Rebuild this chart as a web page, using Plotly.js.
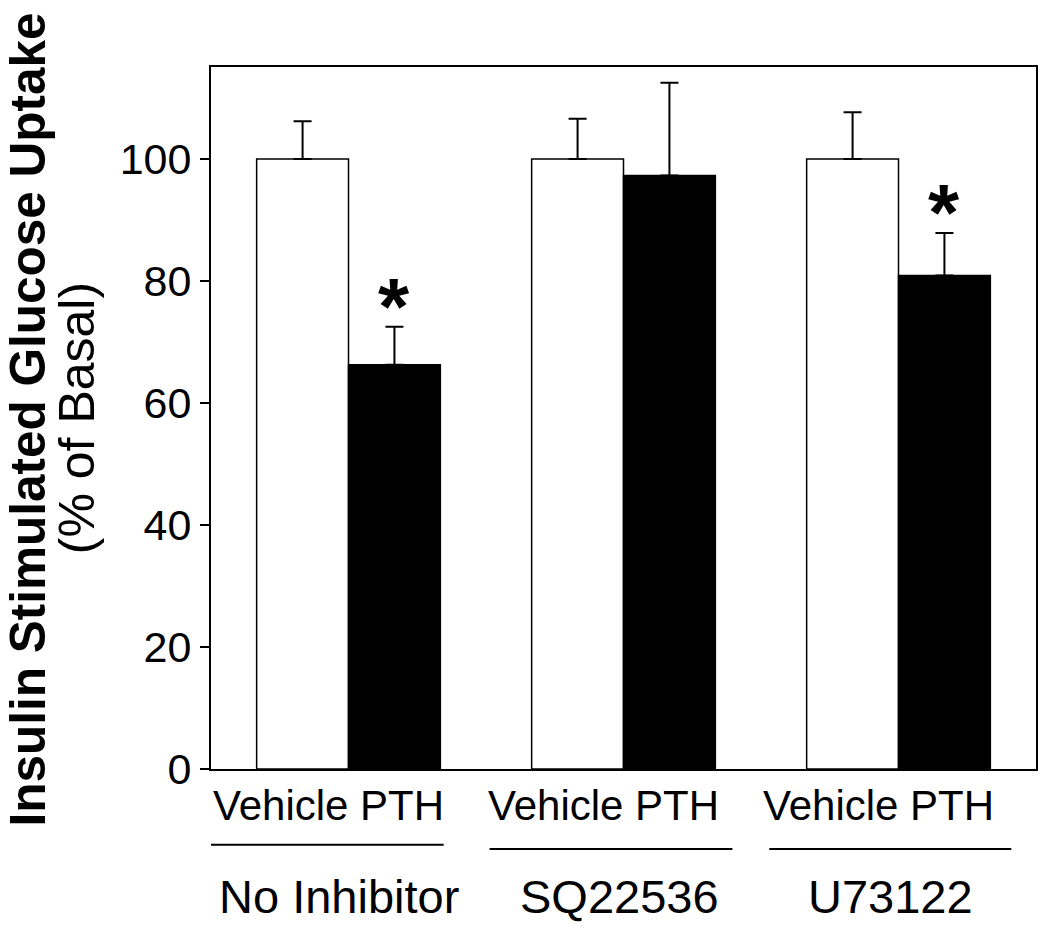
<!DOCTYPE html>
<html>
<head>
<meta charset="utf-8">
<script src="https://cdn.plot.ly/plotly-3.0.1.min.js"></script>
<style>html,body{margin:0;padding:0;background:#fff;}#chart{width:1050px;height:926px;}</style>
</head>
<body>
<div id="chart"></div>
<script>
// Data
const groups = ["No Inhibitor", "SQ22536", "U73122"];
const groupPos = [0.5, 1.5, 2.5];
const vehicleMean = [100, 100, 100];
const vehicleErr = [6.2, 6.6, 7.7];
const pthMean = [66.3, 97.3, 80.9];
const pthErr = [6.2, 15.2, 7.0];
const significant = [true, false, true];
const barLabel = "Vehicle PTH";

const FONT = "Arial, 'Liberation Sans', Helvetica, sans-serif";

const traces = [
  {
    type: "bar", name: "Vehicle", x: groupPos, y: vehicleMean,
    marker: {color: "#ffffff", line: {color: "#000", width: 1.5}},
    error_y: {type: "data", array: vehicleErr, arrayminus: vehicleMean.map(() => 0), symmetric: false,
              color: "#000", thickness: 2, width: 9},
    hoverinfo: "skip"
  },
  {
    type: "bar", name: "PTH", x: groupPos, y: pthMean,
    marker: {color: "#000000", line: {color: "#000", width: 1.5}},
    error_y: {type: "data", array: pthErr, arrayminus: pthMean.map(() => 0), symmetric: false,
              color: "#000", thickness: 2, width: 9},
    hoverinfo: "skip"
  }
];

const annotations = [];
const shapes = [];
const lineSpan = [[0.0, 0.846, -0.108], [1.013, 1.896, -0.114], [2.03, 2.91, -0.114]];
const groupLabelShift = [-0.036, -0.014, -0.03];
groups.forEach((g, i) => {
  annotations.push({
    x: groupPos[i] - 0.072, y: -0.052, xref: "x", yref: "paper",
    text: barLabel, showarrow: false, xanchor: "center", yanchor: "middle",
    font: {family: FONT, size: 42, color: "#000"}
  });
  annotations.push({
    x: groupPos[i] + groupLabelShift[i], y: -0.182, xref: "x", yref: "paper",
    text: g, showarrow: false, xanchor: "center", yanchor: "middle",
    font: {family: FONT, size: 47, color: "#000"}
  });
  shapes.push({
    type: "line", xref: "x", yref: "paper",
    x0: lineSpan[i][0], x1: lineSpan[i][1], y0: lineSpan[i][2], y1: lineSpan[i][2],
    line: {color: "#000", width: 2}
  });
  if (significant[i]) {
    annotations.push({
      x: groupPos[i] + 0.167, y: pthMean[i] + pthErr[i], xref: "x", yref: "y",
      text: "<b>*</b>", showarrow: false, xanchor: "center", yanchor: "bottom",
      yshift: -26,
      font: {family: FONT, size: 80, color: "#000"}
    });
  }
});

annotations.push({
  x: -0.2228, y: 0.498, xref: "paper", yref: "paper", xanchor: "center", yanchor: "middle",
  text: "<b>Insulin Stimulated Glucose Uptake</b>", textangle: -90, showarrow: false,
  font: {family: FONT, size: 49.5, color: "#000"}
});
annotations.push({
  x: -0.1622, y: 0.50, xref: "paper", yref: "paper", xanchor: "center", yanchor: "middle",
  text: "(% of Basal)", textangle: -90, showarrow: false,
  font: {family: FONT, size: 50, color: "#000"}
});

const layout = {
  width: 1050, height: 926,
  margin: {l: 211, r: 14, t: 67, b: 157},
  paper_bgcolor: "#fff", plot_bgcolor: "#fff",
  showlegend: false,
  barmode: "group", bargap: 0.332, bargroupgap: 0,
  font: {family: FONT, color: "#000"},
  xaxis: {
    range: [0, 3], showgrid: false, zeroline: false, showticklabels: false, ticks: "",
    showline: true, mirror: true, linecolor: "#000", linewidth: 2, fixedrange: true
  },
  yaxis: {
    range: [0, 115.1], tickvals: [0, 20, 40, 60, 80, 100], ticks: "outside", ticklen: 9,
    tickwidth: 2, tickcolor: "#000", showgrid: false, zeroline: false,
    showline: true, mirror: true, linecolor: "#000", linewidth: 2,
    tickfont: {family: FONT, size: 43, color: "#000"}, fixedrange: true
  },
  annotations: annotations,
  shapes: shapes
};

Plotly.newPlot("chart", traces, layout, {displayModeBar: false, staticPlot: true});
</script>
</body>
</html>
